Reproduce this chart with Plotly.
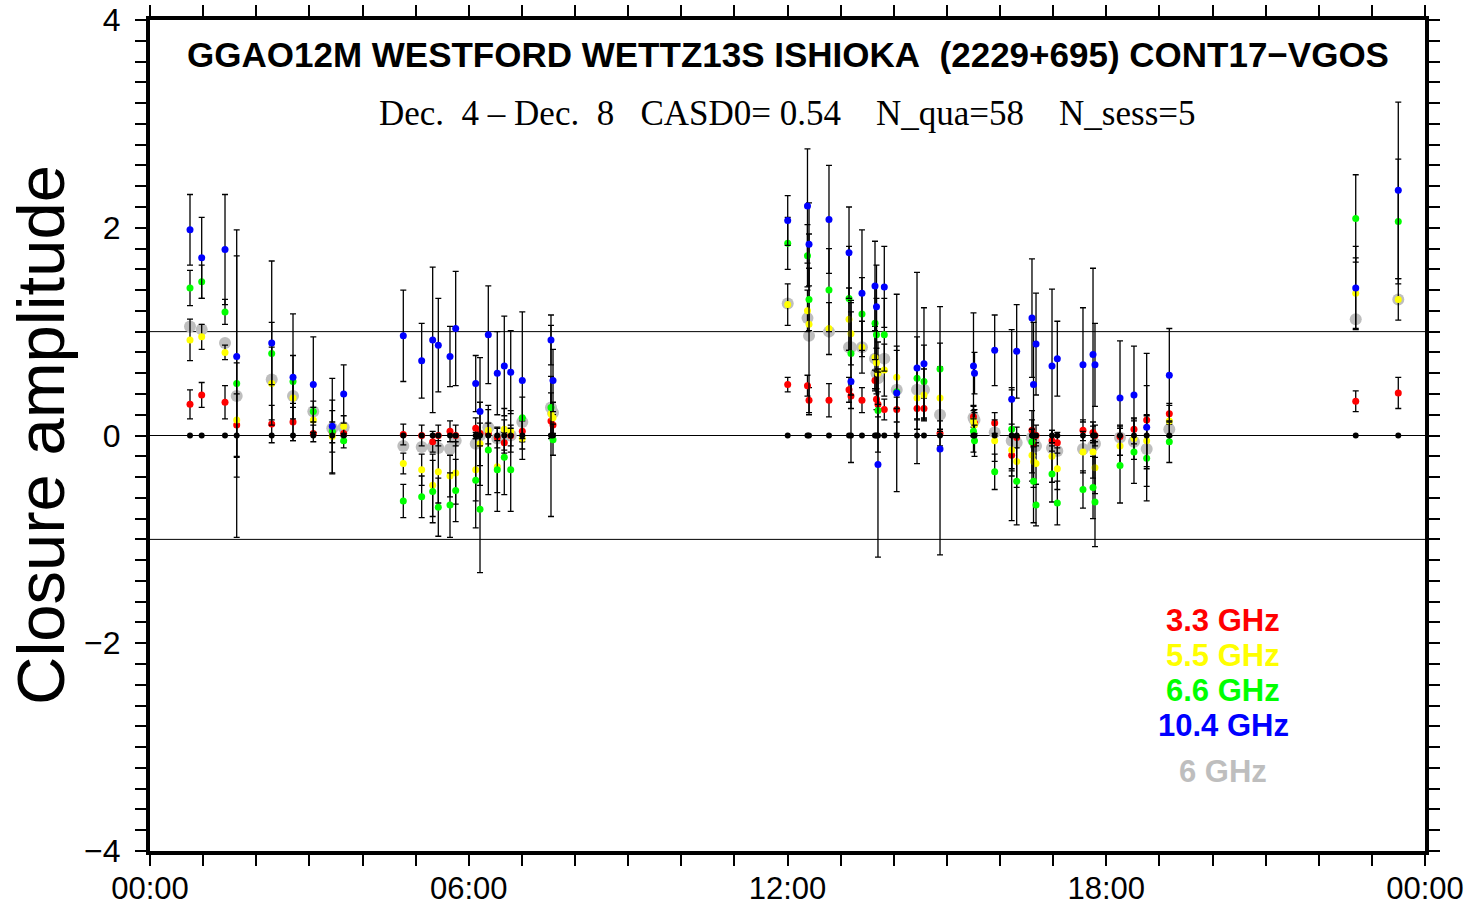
import plotly.graph_objects as go

# ---------------- data (hours of day, closure amplitudes) ----------------
times = [0.753, 0.973, 1.412, 1.632, 2.291, 2.692, 3.074, 3.431, 3.646,
         4.768, 5.114, 5.321, 5.427, 5.647, 5.754, 6.131, 6.212, 6.368, 6.537, 6.669, 6.790, 7.008, 7.548, 7.586,
         12.004, 12.376, 12.405, 12.781, 13.158, 13.195, 13.402, 13.647, 13.675, 13.703, 13.822, 14.056, 14.438, 14.569, 14.871,
         15.501, 15.520, 15.900, 16.220, 16.314, 16.602, 16.631, 16.678, 16.979, 17.079, 17.562, 17.751, 17.788, 18.259, 18.522, 18.761, 19.187,
         22.696, 23.497]

red = [0.30, 0.39, 0.32, 0.10, 0.11, 0.13, 0.02, 0.03, 0.02,
       0.01, 0.00, -0.06, 0.00, 0.04, 0.00, 0.07, 0.02, 0.02, -0.02, -0.07, 0.00, 0.04, 0.14, 0.10,
       0.49, 0.48, 0.34, 0.34, 0.44, 0.38, 0.34, 0.53, 0.35, 0.30, 0.25, 0.25, 0.26, 0.26, 0.02,
       0.18, 0.12, 0.12, -0.19, -0.02, 0.05, -0.08, 0.00, -0.05, -0.07, 0.05, 0.03, 0.00, -0.01, 0.06, 0.15, 0.21,
       0.33, 0.41]

yellow = [0.92, 0.95, 0.80, 0.15, 0.50, 0.36, 0.15, -0.01, 0.09,
          -0.27, -0.33, -0.48, -0.35, -0.39, -0.36, -0.33, -0.08, 0.05, -0.30, 0.06, 0.04, -0.03, 0.21, 0.17,
          1.26, 1.20, 1.07, 1.03, 1.12, 0.98, 0.85, 0.75, 0.70, 0.60, 0.63, 0.56, 0.36, 0.39, 0.36,
          0.14, 0.10, -0.05, -0.14, -0.25, -0.19, -0.25, -0.27, -0.20, -0.32, -0.16, -0.16, -0.31, -0.10, -0.03, -0.05, 0.14,
          1.37, 1.31]

green = [1.42, 1.48, 1.19, 0.50, 0.79, 0.52, 0.23, 0.04, -0.05,
         -0.63, -0.59, -0.54, -0.69, -0.67, -0.53, -0.43, -0.71, -0.14, -0.33, -0.21, -0.33, 0.17, 0.27, -0.04,
         1.85, 1.73, 1.31, 1.40, 1.32, 0.79, 1.17, 1.08, 0.97, 0.24, 0.97, 0.42, 0.55, 0.52, 0.64,
         0.04, -0.05, -0.35, 0.06, -0.44, -0.06, -0.44, -0.67, -0.37, -0.65, -0.52, -0.50, -0.64, -0.29, -0.16, -0.22, -0.06,
         2.09, 2.06]

blue = [1.98, 1.71, 1.79, 0.76, 0.89, 0.56, 0.49, 0.09, 0.40,
        0.96, 0.72, 0.92, 0.87, 0.76, 1.03, 0.50, 0.23, 0.97, 0.60, 0.67, 0.61, 0.53, 0.92, 0.53,
        2.07, 2.21, 1.84, 2.08, 1.76, 0.52, 1.37, 1.44, 1.24, -0.28, 1.43, 0.41, 0.65, 0.69, -0.13,
        0.67, 0.60, 0.82, 0.35, 0.81, 1.13, 0.49, 0.88, 0.67, 0.74, 0.68, 0.78, 0.68, 0.36, 0.39, 0.08, 0.58,
        1.42, 2.36]

gray = [1.05, 1.02, 0.89, 0.38, 0.54, 0.38, 0.23, 0.07, 0.08,
        -0.10, -0.11, -0.11, -0.12, -0.13, -0.05, -0.08, 0.00, 0.08, -0.03, 0.00, 0.00, 0.13, 0.27, 0.22,
        1.27, 1.13, 0.96, 1.00, 0.85, 0.85, 0.85, 0.74, 0.60, 0.55, 0.74, 0.44, 0.44, 0.44, 0.20,
        0.17, 0.15, 0.03, -0.05, -0.07, -0.02, -0.05, -0.10, -0.12, -0.15, -0.13, -0.10, -0.08, -0.02, -0.06, -0.13, 0.06,
        1.12, 1.31]

err_red = [0.14, 0.12, 0.16, 0.30, 0.18, 0.18, 0.08, 0.10, 0.08,
           0.10, 0.10, 0.10, 0.10, 0.10, 0.10, 0.10, 0.10, 0.10, 0.10, 0.10, 0.10, 0.10, 0.92, 0.10,
           0.07, 0.10, 0.12, 0.16, 0.12, 0.12, 0.12, 0.10, 0.10, 0.12, 0.10, 0.12, 0.10, 0.10, 0.12,
           0.10, 0.10, 0.10, 0.63, 0.10, 0.10, 0.10, 0.10, 0.10, 0.10, 0.10, 0.10, 0.10, 0.10, 0.10, 0.64, 0.10,
           0.10, 0.15]

err_yellow = [0.20, 0.12, 0.07, 0.55, 0.35, 0.20, 0.12, 0.35, 0.10,
              0.10, 0.15, 0.30, 0.30, 0.20, 0.30, 0.30, 0.40, 0.20, 0.25, 0.20, 0.20, 0.20, 0.20, 0.15,
              0.20, 0.20, 0.87, 0.25, 0.30, 0.30, 0.25, 0.30, 0.30, 0.30, 0.25, 0.30, 0.30, 0.25, 0.30,
              0.15, 0.15, 0.20, 0.25, 0.25, 0.25, 0.25, 0.20, 0.25, 0.20, 0.20, 0.25, 0.25, 0.20, 0.20, 0.25, 0.15,
              0.34, 0.20]

err_green = [0.17, 0.16, 0.12, 1.48, 0.30, 0.25, 0.10, 0.20, 0.07,
             0.16, 0.20, 0.30, 0.28, 0.31, 0.30, 0.46, 0.61, 0.43, 0.40, 0.36, 0.40, 0.20, 0.30, 0.15,
             0.25, 0.30, 0.30, 0.40, 0.50, 0.40, 0.35, 0.35, 0.35, 0.40, 0.35, 0.40, 0.40, 0.35, 0.60,
             0.20, 0.15, 0.17, 0.40, 0.42, 0.30, 0.40, 0.20, 0.27, 0.21, 0.18, 0.30, 0.43, 0.36, 0.30, 0.41, 0.20,
             0.42, 0.60]

err_blue = [0.34, 0.39, 0.53, 0.97, 0.79, 0.61, 0.46, 0.46, 0.28,
            0.44, 0.36, 0.70, 0.45, 0.29, 0.55, 0.27, 0.52, 0.47, 0.40, 0.48, 0.40, 0.66, 0.24, 0.30,
            0.24, 0.55, 0.40, 0.52, 0.44, 0.78, 0.61, 0.43, 0.40, 0.89, 0.39, 0.95, 0.92, 0.54, 1.02,
            0.51, 0.20, 0.34, 0.67, 0.45, 0.57, 0.60, 0.49, 0.74, 0.36, 0.55, 0.83, 0.40, 0.55, 0.47, 0.40, 0.45,
            0.40, 0.85]

reference = [0.0] * len(times)   # reference closure (black dots)
ref_lines = [-1, 0, 1]

x_tickvals = [0, 6, 12, 18, 24]
x_ticktext = ["00:00", "06:00", "12:00", "18:00", "00:00"]
y_tickvals = [-4, -2, 0, 2, 4]

band_labels = ["3.3 GHz", "5.5 GHz", "6.6 GHz", "10.4 GHz", "6 GHz"]
band_colors = ["#ff0000", "#ffff00", "#00ff00", "#0000ff", "#bebebe"]

title1 = "GGAO12M WESTFORD WETTZ13S ISHIOKA\u00a0\u00a0(2229+695) CONT17\u2212VGOS"
title2 = ("Dec.\u00a0\u00a04 \u2013 Dec.\u00a0\u00a08\u00a0\u00a0\u00a0CASD0= 0.54"
          "\u00a0\u00a0\u00a0\u00a0N_qua=58\u00a0\u00a0\u00a0\u00a0N_sess=5")

# ---------------- figure ----------------
fig = go.Figure()

eb = dict(type="data", color="black", thickness=1.3, width=3)

fig.add_trace(go.Scatter(x=times, y=gray, mode="markers",
                         marker=dict(color=band_colors[4], size=12), showlegend=False))
series = [(red, err_red, band_colors[0]), (yellow, err_yellow, band_colors[1]),
          (green, err_green, band_colors[2]), (blue, err_blue, band_colors[3])]
for vals, errs, col in series:
    fig.add_trace(go.Scatter(x=times, y=vals, mode="markers",
                             marker=dict(color=col, size=7),
                             error_y=dict(array=errs, **eb), showlegend=False))
fig.add_trace(go.Scatter(x=times, y=reference, mode="markers",
                         marker=dict(color="black", size=6), showlegend=False))

for v in ref_lines:
    fig.add_shape(type="line", xref="paper", x0=0, x1=1, yref="y", y0=v, y1=v,
                  line=dict(color="black", width=1), layer="below")

# plot-area geometry in pixels (for annotation placement)
W, H = 1475, 908
L, R, T, B = 150, 50, 20, 57
pw, ph = W - L - R, H - T - B

def px(xp):
    return (xp - L) / pw

def py(yp):
    return (H - B - yp) / ph

fig.add_annotation(text="<b>" + title1 + "</b>", xref="paper", yref="paper",
                   x=px(788), y=py(55), showarrow=False, xanchor="center", yanchor="middle",
                   font=dict(family="Liberation Sans", size=35, color="black"))
fig.add_annotation(text=title2, xref="paper", yref="paper",
                   x=px(787), y=py(113), showarrow=False, xanchor="center", yanchor="middle",
                   font=dict(family="Liberation Serif", size=35, color="black"))

leg_y = [620, 655, 690, 725, 771]
for lab, col, yy in zip(band_labels, band_colors, leg_y):
    fig.add_annotation(text="<b>" + lab + "</b>", xref="paper", yref="paper",
                       x=px(1223), y=py(yy), showarrow=False, xanchor="center", yanchor="middle",
                       borderpad=0,
                       font=dict(family="Liberation Sans", size=31, color=col))

fig.add_annotation(text="Closure amplitude", xref="paper", yref="paper",
                   x=px(41), y=py(435), textangle=-90, showarrow=False,
                   xanchor="center", yanchor="middle",
                   font=dict(family="Liberation Sans", size=67, color="black"))

fig.update_layout(
    width=W, height=H,
    margin=dict(l=L, r=R, t=T, b=B, pad=0, autoexpand=False),
    paper_bgcolor="white", plot_bgcolor="white",
    xaxis=dict(range=[0, 24], tickvals=x_tickvals, ticktext=x_ticktext,
               showgrid=False, zeroline=False, automargin=False,
               showline=True, linewidth=4, linecolor="black", mirror="allticks",
               ticks="outside", ticklen=11, tickwidth=2, tickcolor="black",
               minor=dict(dtick=1, ticks="outside", ticklen=11, tickwidth=2, tickcolor="black", showgrid=False),
               tickfont=dict(family="Liberation Sans", size=31, color="black"),
               ticklabelstandoff=-4),
    yaxis=dict(range=[-4, 4], tickvals=y_tickvals,
               showgrid=False, zeroline=False, automargin=False,
               showline=True, linewidth=4, linecolor="black", mirror="allticks",
               ticks="outside", ticklen=11, tickwidth=2, tickcolor="black",
               minor=dict(dtick=0.2, ticks="outside", ticklen=11, tickwidth=2, tickcolor="black", showgrid=False),
               tickfont=dict(family="Liberation Sans", size=32, color="black"),
               ticklabelstandoff=8),
)

fig.write_html("out.html", config={"displayModeBar": False},
               post_script="document.body.style.margin='0';document.body.style.overflow='hidden';")
